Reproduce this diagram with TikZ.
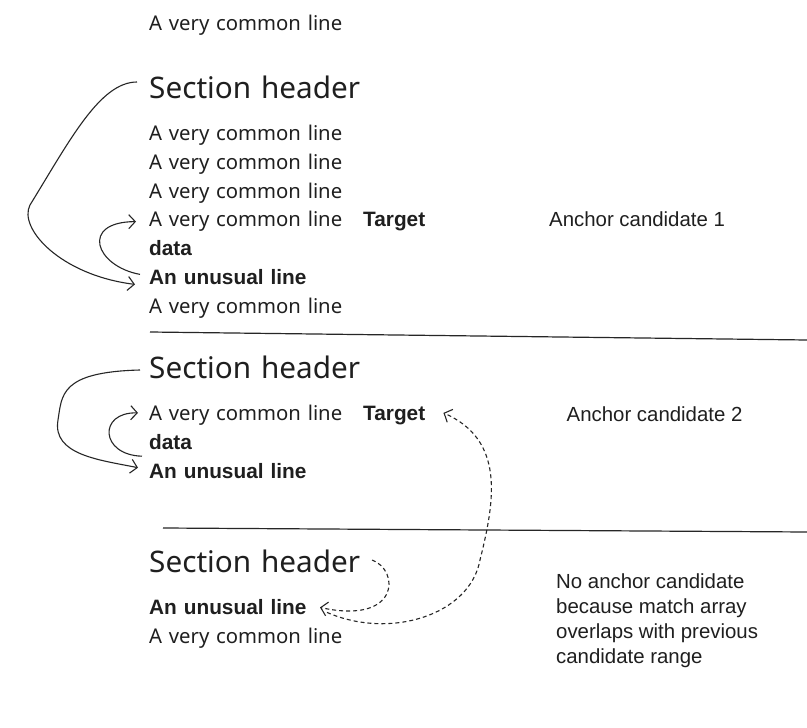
\documentclass[tikz,border=0pt]{standalone}
\usepackage{fontspec}
\setmainfont{Noto Sans}
\newfontfamily\notefont{Liberation Sans}
\usepackage{xcolor}
\usetikzlibrary{chains,positioning,arrows.meta}

\begin{document}
\begin{tikzpicture}[x=1pt,y=1pt]

        \fill[white] (0,0) rectangle (807,-728);
        \useasboundingbox (0,0) rectangle (807,-728);

        \edef\sizeline{28.5pt}
        \tikzstyle{codeline}=[text width=230pt,align=left,inner sep=0pt,minimum height=\sizeline,text height=14.6pt,text depth=0pt,text=black!88,font=\fontsize{20.3}{24}\selectfont]
        \tikzstyle{unusual}=[codeline,font=\notefont\bfseries\fontsize{20.8}{24}\selectfont]
        \tikzstyle{header}=[codeline,minimum height=60.5pt,text height=21.2pt,font=\fontsize{29.7}{36}\selectfont]
        \tikzstyle{target}=[inner sep=0pt,text height=14.6pt,text depth=0pt,text=black!88,font=\notefont\bfseries\fontsize{20.8}{24}\selectfont]
        \tikzstyle{note}=[inner sep=0pt,align=left,text=black!88,font=\notefont\fontsize{20.4}{25}\selectfont]
        \tikzstyle{hop}=[draw=black!85,line width=1.1pt,-{Straight Barb[length=6.5pt,width=14pt]}]
        \tikzstyle{hopdash}=[hop,dash pattern=on 4pt off 3pt]
        \tikzstyle{sepline}=[draw=black!85,line width=1.2pt]

        %% First section
        \begin{scope}[shift={(149,-88)},start chain=1 going below,node distance=0pt]
            \node [on chain=1,header,anchor=west] (h1) {Section header};
            \node [on chain=1,codeline] (c11) {A very common line};
            \node [on chain=1,codeline] (c12) {A very common line};
            \node [on chain=1,codeline] (c13) {A very common line};
            \node [on chain=1,codeline] (c14) {A very common line};
            \node [on chain=1,unusual] (d1) {data};
            \node [on chain=1,unusual] (u1) {An unusual line};
            \node [on chain=1,codeline] (c15) {A very common line};
            \node [codeline,above=19.5pt of h1] (c0) {A very common line};
        \end{scope}
        \node [target,anchor=west] (t1) at ([xshift=214pt]c14.west) {Target};

        %% Second section
        \begin{scope}[shift={(149,-368)},start chain=1 going below,node distance=0pt]
            \node [on chain=1,header,anchor=west] (h2) {Section header};
            \node [on chain=1,codeline] (c21) {A very common line};
            \node [on chain=1,unusual] (d2) {data};
            \node [on chain=1,unusual] (u2) {An unusual line};
        \end{scope}
        \node [target,anchor=west] (t2) at ([xshift=214pt]c21.west) {Target};

        %% Third section
        \begin{scope}[shift={(149,-562)},start chain=1 going below,node distance=0pt]
            \node [on chain=1,header,anchor=west] (h3) {Section header};
            \node [on chain=1,unusual] (u3) {An unusual line};
            \node [on chain=1,codeline] (c31) {A very common line};
        \end{scope}

        \node [note,anchor=base west] (a1) at (549,-226) {Anchor candidate 1};
        \node [note,anchor=base west] (a2) at (566.5,-421.5) {Anchor candidate 2};
        \node [note,anchor=north west] (a3) at (556,-574) {No anchor candidate\\because match array\\overlaps with previous\\candidate range};

        \draw[sepline] (150,-332) -- (807,-340);
        \draw[sepline] (163,-528) -- (807,-532);

        %% jumps
        \draw[hop] ([xshift=-12pt,yshift=6pt]h1.west) .. controls (100,-82) and (70,-140) .. (30,-205)
            .. controls (18,-228) and (60,-275) .. ([xshift=-14pt,yshift=-7pt]u1.west);
        \draw[hop] ([xshift=-9pt,yshift=3pt]u1.west) .. controls (95,-266) and (80,-222) .. ([xshift=-13pt,yshift=-2pt]c14.west);
        \draw[hop] ([xshift=-9pt,yshift=-2pt]h2.west) .. controls (60,-372) and (62,-395) .. (58,-420)
            .. controls (52,-455) and (100,-460) .. ([xshift=-11pt,yshift=3pt]u2.west);
        \draw[hop] ([xshift=-7pt,yshift=14.5pt]u2.west) .. controls (100,-455) and (98,-412) .. ([xshift=-11pt]c21.west);
        \draw[hopdash] ([xshift=223pt,yshift=2pt]h3.west) .. controls (400,-570) and (400,-625) .. ([xshift=171pt,yshift=-0.5pt]u3.west);
        \draw[hopdash] ([xshift=178pt,yshift=-5.5pt]u3.west) .. controls (390,-640) and (470,-615) .. (480,-560)
            .. controls (495,-500) and (505,-440) .. ([xshift=18pt]t2.east);

\end{tikzpicture}
\end{document}
